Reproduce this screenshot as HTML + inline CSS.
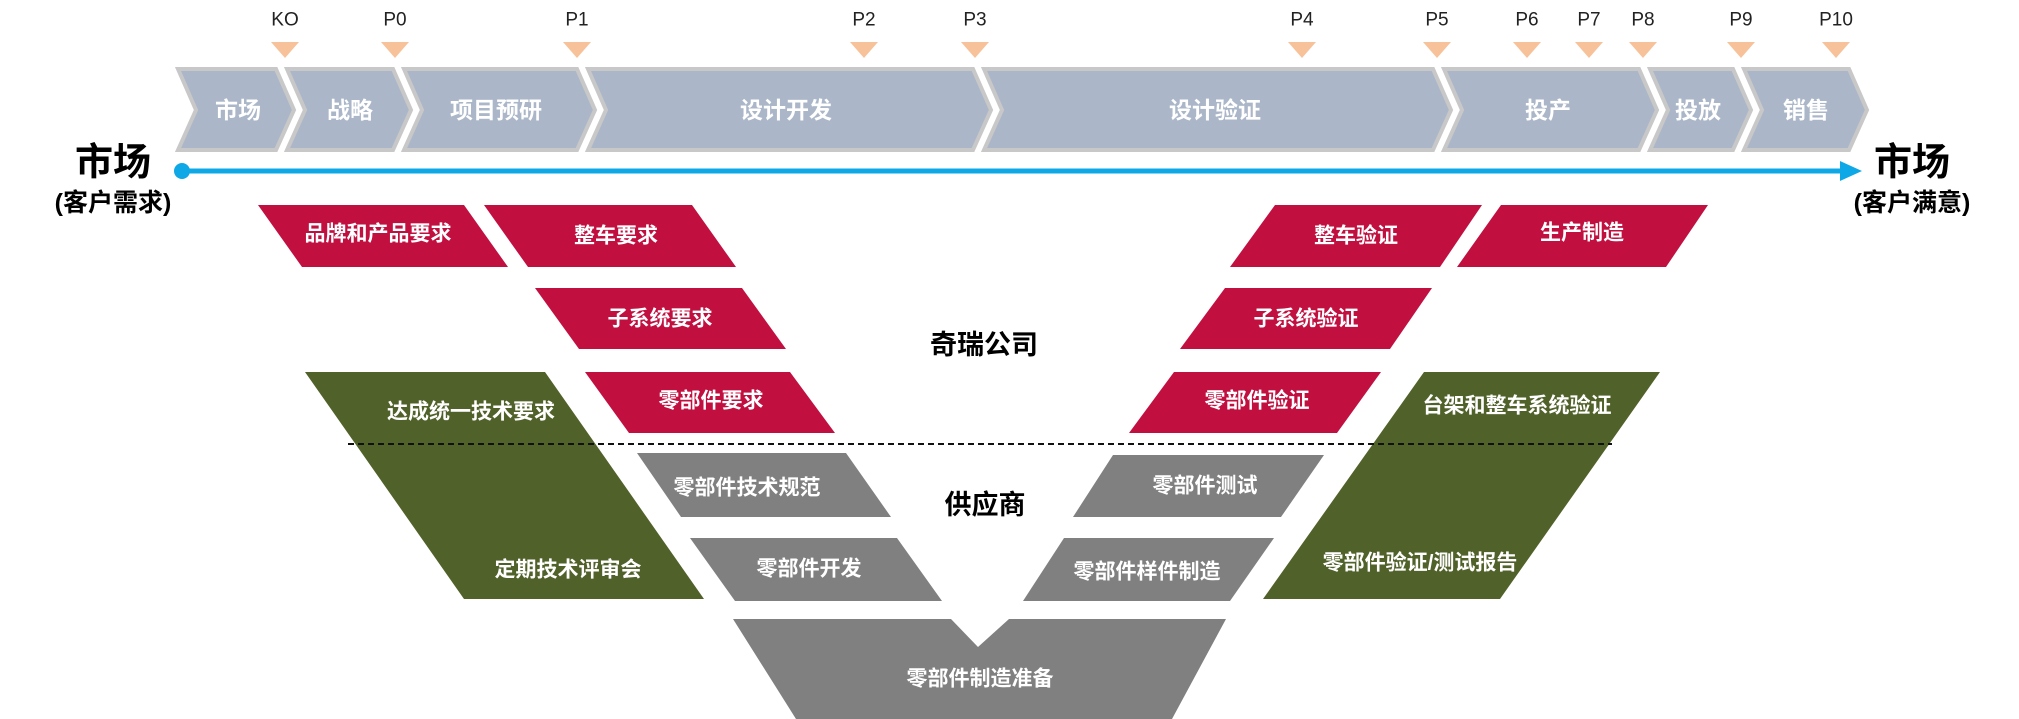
<!DOCTYPE html>
<html><head><meta charset="utf-8"><style>
html,body{margin:0;padding:0;background:#fff;}
svg{display:block;}
text{font-family:"Liberation Sans","Noto Sans CJK SC",sans-serif;}
.w{fill:#fff;font-weight:bold;font-size:21px;text-anchor:middle;dominant-baseline:central;}
.c{fill:#fff;font-weight:bold;font-size:23px;text-anchor:middle;dominant-baseline:central;}
.m{fill:#222;font-size:19px;text-anchor:middle;dominant-baseline:central;}
.b{fill:#000;font-weight:bold;text-anchor:middle;dominant-baseline:central;}
</style></head><body>
<svg width="2019" height="719" viewBox="0 0 2019 719" xmlns="http://www.w3.org/2000/svg">
<g fill="#F7C29A">
<polygon points="271,42 299,42 285,58"/><polygon points="381,42 409,42 395,58"/>
<polygon points="563,42 591,42 577,58"/><polygon points="850,42 878,42 864,58"/>
<polygon points="961,42 989,42 975,58"/><polygon points="1288,42 1316,42 1302,58"/>
<polygon points="1423,42 1451,42 1437,58"/><polygon points="1513,42 1541,42 1527,58"/>
<polygon points="1575,42 1603,42 1589,58"/><polygon points="1629,42 1657,42 1643,58"/>
<polygon points="1727,42 1755,42 1741,58"/><polygon points="1822,42 1850,42 1836,58"/>
</g>
<text class="m" x="285" y="20">KO</text><text class="m" x="395" y="20">P0</text>
<text class="m" x="577" y="20">P1</text><text class="m" x="864" y="20">P2</text>
<text class="m" x="975" y="20">P3</text><text class="m" x="1302" y="20">P4</text>
<text class="m" x="1437" y="20">P5</text><text class="m" x="1527" y="20">P6</text>
<text class="m" x="1589" y="20">P7</text><text class="m" x="1643" y="20">P8</text>
<text class="m" x="1741" y="20">P9</text><text class="m" x="1836" y="20">P10</text>
<g fill="#ABB7C8" stroke="#C8C8C8" stroke-width="4">
<polygon points="178,69 276,69 294,110 276,150 178,150 196,110"/>
<polygon points="287,69 393,69 411,110 393,150 287,150 305,110"/>
<polygon points="404,69 577,69 595,110 577,150 404,150 422,110"/>
<polygon points="588,69 973,69 991,110 973,150 588,150 606,110"/>
<polygon points="984,69 1433,69 1451,110 1433,150 984,150 1002,110"/>
<polygon points="1444,69 1639,69 1657,110 1639,150 1444,150 1462,110"/>
<polygon points="1650,69 1733,69 1751,110 1733,150 1650,150 1668,110"/>
<polygon points="1744,69 1849,69 1867,110 1849,150 1744,150 1762,110"/>
</g>
<text class="c" x="238" y="110">市场</text><text class="c" x="350" y="110">战略</text>
<text class="c" x="496" y="110">项目预研</text><text class="c" x="786" y="110">设计开发</text>
<text class="c" x="1215" y="110">设计验证</text><text class="c" x="1548" y="110">投产</text>
<text class="c" x="1698" y="110">投放</text><text class="c" x="1806" y="110">销售</text>
<line x1="182" y1="171" x2="1845" y2="171" stroke="#0EA8E6" stroke-width="5"/>
<polygon points="1840,161 1862,171 1840,181" fill="#0EA8E6"/>
<circle cx="182" cy="171" r="8" fill="#0EA8E6"/>
<text class="b" x="113" y="163" font-size="38">市场</text>
<text class="b" x="113" y="203" font-size="25">(客户需求)</text>
<text class="b" x="1912" y="163" font-size="38">市场</text>
<text class="b" x="1912" y="203" font-size="25">(客户满意)</text>
<g fill="#C10F40">
<polygon points="258,205 464,205 508,267 302,267"/>
<polygon points="484,205 692,205 736,267 528,267"/>
<polygon points="535,288 742,288 786,349 579,349"/>
<polygon points="585,372 790,372 835,433 629,433"/>
<polygon points="1275,205 1482,205 1440,267 1230,267"/>
<polygon points="1501,205 1708,205 1666,267 1457,267"/>
<polygon points="1225,288 1432,288 1390,349 1180,349"/>
<polygon points="1174,372 1381,372 1337,433 1129,433"/>
</g>
<text class="w" x="378" y="234">品牌和产品要求</text>
<text class="w" x="616" y="236">整车要求</text>
<text class="w" x="660" y="319">子系统要求</text>
<text class="w" x="711" y="401">零部件要求</text>
<text class="w" x="1356" y="236">整车验证</text>
<text class="w" x="1582" y="233">生产制造</text>
<text class="w" x="1306" y="319">子系统验证</text>
<text class="w" x="1257" y="401">零部件验证</text>
<g fill="#506129">
<polygon points="305,372 545,372 704,599 464,599"/>
<polygon points="1424,372 1660,372 1500,599 1263,599"/>
</g>
<g fill="#808080">
<polygon points="637,453 846,453 891,517 681,517"/>
<polygon points="690,538 897,538 942,601 735,601"/>
<polygon points="1113,455 1324,455 1281,517 1073,517"/>
<polygon points="1064,538 1274,538 1230,601 1023,601"/>
<polygon points="733,619 951,619 978,647 1009,619 1226,619 1172,719 796,719"/>
</g>
<line x1="348" y1="444" x2="1612" y2="444" stroke="#111" stroke-width="2" stroke-dasharray="6,4"/>
<text class="w" x="471" y="412">达成统一技术要求</text>
<text class="w" x="568" y="570">定期技术评审会</text>
<text class="w" x="1517" y="406">台架和整车系统验证</text>
<text class="w" x="1420" y="563">零部件验证/测试报告</text>
<text class="w" x="747" y="488">零部件技术规范</text>
<text class="w" x="809" y="569">零部件开发</text>
<text class="w" x="1205" y="486">零部件测试</text>
<text class="w" x="1147" y="572">零部件样件制造</text>
<text class="w" x="980" y="679">零部件制造准备</text>
<text class="b" x="984" y="345" font-size="27">奇瑞公司</text>
<text class="b" x="985" y="505" font-size="27">供应商</text>
</svg>
</body></html>
